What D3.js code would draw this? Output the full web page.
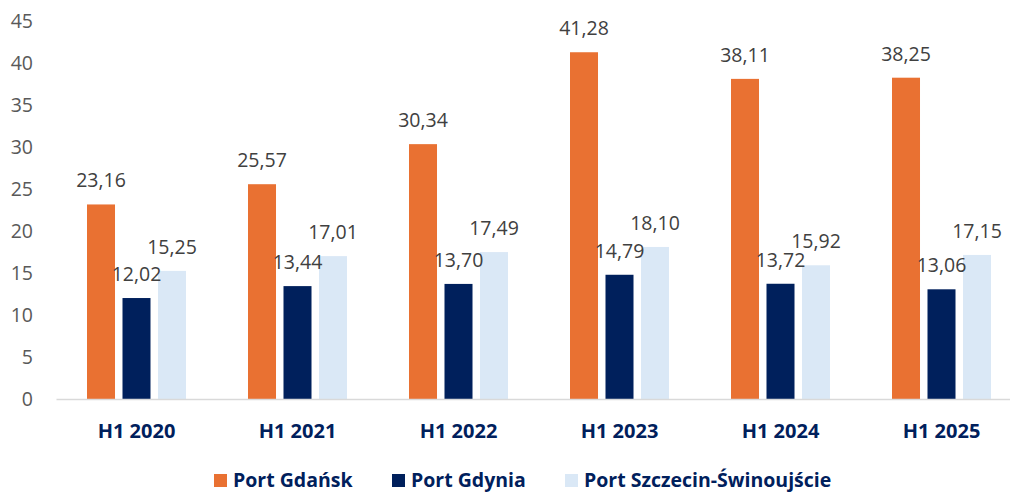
<!DOCTYPE html>
<html>
<head>
<meta charset="utf-8">
<script src="https://cdn.jsdelivr.net/npm/d3@7"></script>
<style>
  html, body { margin: 0; padding: 0; background: #fff; }
  svg { display: block; font-family: "Open Sans", "Noto Sans", sans-serif; }
</style>
</head>
<body>
<svg id="chart" width="1010" height="493"></svg>
<script>
const categories = ["H1 2020", "H1 2021", "H1 2022", "H1 2023", "H1 2024", "H1 2025"];
const seriesNames = ["Port Gdańsk", "Port Gdynia", "Port Szczecin-Świnoujście"];
const gdansk = [23.16, 25.57, 30.34, 41.28, 38.11, 38.25];
const gdynia = [12.02, 13.44, 13.70, 14.79, 13.72, 13.06];
const szczecin = [15.25, 17.01, 17.49, 18.10, 15.92, 17.15];
const yTicks = [0, 5, 10, 15, 20, 25, 30, 35, 40, 45];
const colors = ["#E97132", "#00205C", "#DAE8F6"];

const seriesValues = [gdansk, gdynia, szczecin];
const svg = d3.select("#chart");

const x0 = d3.scaleBand().domain(categories).range([56, 1022]).padding(0);
const x1 = d3.scaleBand().domain(seriesNames).range([31, 130]).paddingInner(0.211).paddingOuter(0);
const y = d3.scaleLinear().domain([0, 45]).range([399, 21]);

const fmt = v => d3.format(".2f")(v).replace(".", ",");

// y axis labels
const yAxis = d3.axisLeft(y).tickValues(yTicks).tickSize(0).tickPadding(0);
const gy = svg.append("g").attr("transform", "translate(33,0)").call(yAxis);
gy.select(".domain").remove();
gy.selectAll("text").attr("fill", "#595959").style("font-size", "19.5px")
  .style("font-family", "'Open Sans', sans-serif");

// bars
const groups = svg.append("g").selectAll("g")
  .data(categories)
  .join("g")
  .attr("transform", d => `translate(${x0(d)},0)`);

const rows = (c, i) => seriesNames.map((s, k) => ({ s, k, v: seriesValues[k][i] }));

groups.selectAll("rect")
  .data((c, i) => rows(c, i))
  .join("rect")
  .attr("x", d => x1(d.s))
  .attr("width", x1.bandwidth())
  .attr("y", d => y(d.v))
  .attr("height", d => y(0) - y(d.v))
  .attr("fill", d => colors[d.k]);

// x axis line
const xAxis = d3.axisBottom(x0).tickSize(0).tickPadding(0).tickFormat("");
const gx = svg.append("g").attr("transform", `translate(0,${y(0)})`).call(xAxis);
gx.select(".domain").attr("stroke", "#D9D9D9").attr("stroke-width", 1.5);

// category labels
svg.append("g").selectAll("text")
  .data(categories)
  .join("text")
  .attr("x", d => x0(d) + x0.bandwidth() / 2)
  .attr("y", 438)
  .attr("text-anchor", "middle")
  .attr("fill", "#00205C")
  .style("font-size", "20px")
  .style("font-weight", "700")
  .text(d => d);

// data labels
groups.selectAll("text.val")
  .data((c, i) => rows(c, i))
  .join("text")
  .attr("class", "val")
  .attr("x", d => x1(d.s) + x1.bandwidth() / 2)
  .attr("y", d => y(d.v) - 17)
  .attr("text-anchor", "middle")
  .attr("fill", "#404040")
  .style("font-size", "19.5px")
  .text(d => fmt(d.v));

// legend
const legendX = [214, 392, 565];
const lg = svg.append("g").selectAll("g")
  .data(seriesNames)
  .join("g")
  .attr("transform", (d, i) => `translate(${legendX[i]},0)`);
lg.append("rect").attr("x", 0).attr("y", 474).attr("width", 13).attr("height", 13)
  .attr("fill", (d, i) => colors[i]);
lg.append("text").attr("x", 19).attr("y", 487)
  .attr("fill", "#00205C")
  .style("font-size", "19.5px")
  .style("font-weight", "700")
  .text(d => d);
</script>
</body>
</html>
